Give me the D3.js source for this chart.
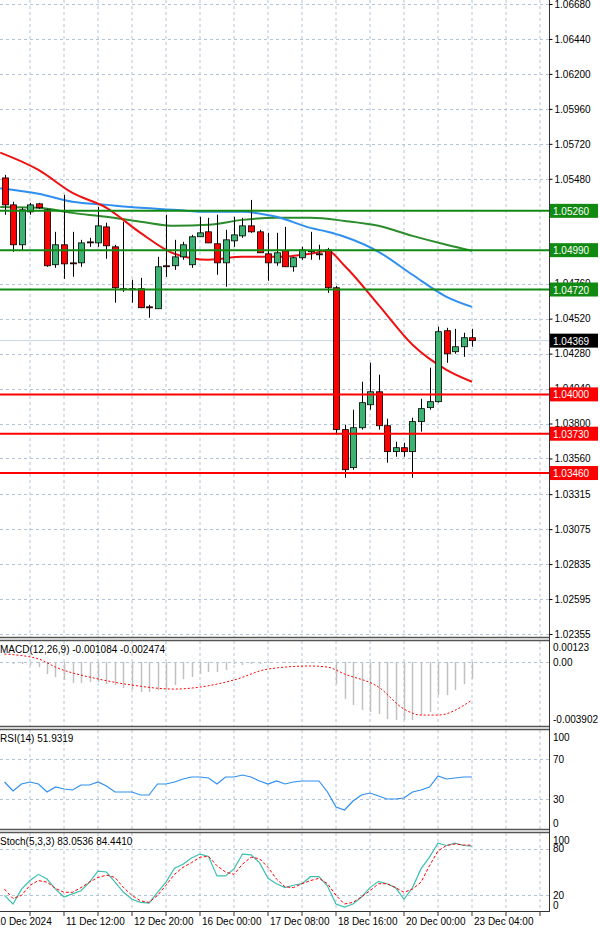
<!DOCTYPE html>
<html>
<head>
<meta charset="utf-8">
<script src="https://cdn.jsdelivr.net/npm/d3@7"></script>
<style>
  body { margin: 0; background: #fff; }
  svg text { font-family: "Liberation Sans", Arial, sans-serif; font-size: 10px; }
</style>
</head>
<body>
<svg id="chart" width="600" height="934"></svg>
<script>
// H4 candles, 10 Dec 08:00 .. 22 Dec
var open  = [1.05486,1.05301,1.05027,1.05253,1.05308,1.05267,1.0489,1.05027,1.04903,1.04903,1.05047,1.0504,1.0515,1.05013,1.04725,1.04725,1.04725,1.04601,1.04588,1.04883,1.04883,1.04944,1.0489,1.05082,1.05116,1.05034,1.04903,1.05054,1.05088,1.05157,1.05116,1.04965,1.04903,1.04986,1.04876,1.04938,1.04979,1.04965,1.04992,1.04732,1.03758,1.03497,1.03771,1.03929,1.04018,1.03785,1.03607,1.03634,1.03607,1.03813,1.03909,1.0395,1.04437,1.04293,1.04327,1.04389];
var close = [1.05301,1.05027,1.05267,1.05301,1.05281,1.04883,1.05027,1.04896,1.049,1.0504,1.05044,1.05157,1.0502,1.04732,1.04722,1.0472,1.04595,1.04595,1.04876,1.0488,1.04944,1.05027,1.05082,1.05109,1.0504,1.04903,1.05061,1.05095,1.05157,1.05116,1.04972,1.04903,1.04972,1.04876,1.04938,1.04992,1.04986,1.04962,1.04732,1.03758,1.03483,1.03771,1.03943,1.04018,1.03785,1.03607,1.03634,1.03607,1.03813,1.03902,1.0395,1.0443,1.04279,1.04327,1.04389,1.04369];
var high  = [1.05507,1.05322,1.05281,1.05315,1.05315,1.05274,1.05116,1.0537,1.05116,1.05061,1.05075,1.05287,1.05178,1.05027,1.05185,1.04787,1.048,1.04615,1.04944,1.05233,1.05061,1.05047,1.05095,1.05219,1.05212,1.05233,1.0513,1.05219,1.05212,1.05335,1.0513,1.05109,1.05109,1.0515,1.04944,1.05013,1.05116,1.05027,1.05006,1.04745,1.03792,1.03895,1.04087,1.04217,1.04135,1.03833,1.03675,1.03668,1.0384,1.0397,1.04183,1.04464,1.04457,1.0445,1.04423,1.0445];
var low   = [1.05233,1.04979,1.04992,1.05233,1.05274,1.04876,1.04869,1.04793,1.04807,1.04876,1.05013,1.05013,1.04931,1.04629,1.04704,1.04629,1.04592,1.04526,1.04588,1.04807,1.04855,1.04924,1.04869,1.05082,1.0504,1.04821,1.04739,1.05013,1.05075,1.05109,1.04972,1.0478,1.04883,1.04876,1.04842,1.04924,1.04924,1.04924,1.04697,1.03723,1.03428,1.03483,1.03758,1.03895,1.03758,1.03531,1.03572,1.03572,1.03428,1.03744,1.03895,1.03943,1.04217,1.04279,1.04258,1.04327];

// moving averages, sampled at candle indices
var maIdx   = [-0.5,4,8,12,16,20,24,28,32,36,38,40,44,48,52,55];
var maRed   = [1.0566,1.05541,1.05383,1.05281,1.05109,1.04965,1.04924,1.04944,1.04944,1.04965,1.04986,1.04883,1.04615,1.04341,1.04169,1.04087];
var maBlue  = [1.05415,1.05377,1.05322,1.05301,1.05281,1.05267,1.05253,1.05253,1.05219,1.05143,1.05116,1.05082,1.04979,1.04821,1.0467,1.04601];
var greenIdx = [-0.5,4,8,12,16,20,24,28,32,36,40,44,48,52,55];
var maGreen = [1.05287,1.05281,1.05246,1.05219,1.05185,1.05157,1.05164,1.05198,1.05212,1.05212,1.05191,1.05157,1.05088,1.05027,1.04986];

var greenLevels = [1.0526, 1.0499, 1.0472];
var redLevels = [1.04, 1.0373, 1.0346];
var lastPrice = 1.04369;
var priceTicks = [1.0668,1.0644,1.062,1.0596,1.0572,1.0548,1.0476,1.0452,1.0428,1.0404,1.038,1.0356,1.03315,1.03075,1.02835,1.02595,1.02355];

var macdHist = [0,-0.00013,-0.00013,-0.0002,-0.00033,-0.00078,-0.00098,-0.00117,-0.00137,-0.00137,-0.0013,-0.0013,-0.00143,-0.0015,-0.00169,-0.00176,-0.00195,-0.00195,-0.00182,-0.00176,-0.0015,-0.00111,-0.00098,-0.00078,-0.00065,-0.00065,-0.00052,-0.00013,-0.0002,-0.00013,-0.00013,-0.00007,-0.00007,-0.00007,-0.00007,-0.00007,-0.00007,-0.00007,-0.00007,-0.00143,-0.00241,-0.0028,-0.00312,-0.00325,-0.00338,-0.00371,-0.00377,-0.00377,-0.00377,-0.00345,-0.00325,-0.00215,-0.00215,-0.00182,-0.00143,-0.00108];
var sigIdx = [0,4,6,11,15,20,23,27,31,36,38,40,44,47,49,51,55];
var macdSig = [0.00052,0.0002,-0.00033,-0.0011,-0.0015,-0.00176,-0.00163,-0.00117,-0.00046,-0.00026,-0.00033,-0.00078,-0.00163,-0.00306,-0.00345,-0.00345,-0.00247];

var rsi = [47,38,45,47,45,37,42,40,39,44,44,47,43,37,37,37,34,34,45,45,47,50,52,52,51,45,52,52,54,52,48,45,48,45,47,48,48,48,37,22,19,28,34,36,33,30,30,31,37,39,42,53,50,51,52,52];
var stochK = [20,9,28,39,47,41,28,18,22,26,37,51,50,37,24,15,11,10,24,37,55,60,68,73,70,45,45,54,73,72,62,42,35,30,33,35,44,44,32,9,5,9,18,30,38,35,30,15,30,54,69,87,84,87,84,83];
var stochD = [28,16,20,33,39,37,29,24,24,30,37,43,46,43,30,20,13,11,20,33,47,56,62,69,70,58,50,47,60,69,67,56,41,31,30,35,39,42,35,20,9,11,18,26,35,35,30,24,28,37,58,77,84,86,84.6,84.4];

var timeIdx = [-1,7,15,23,31,39,47,55];
var timeLabels = ["10 Dec 2024","11 Dec 12:00","12 Dec 20:00","16 Dec 00:00","17 Dec 08:00","18 Dec 16:00","20 Dec 00:00","23 Dec 04:00"];

var svg = d3.select('#chart');
var axisX = 549;
var gridColor = '#b4c4d8';

var x = d3.scaleLinear().domain([0, 55]).range([4.5, 472]);
var y = d3.scaleLinear().domain([1.02355, 1.0668]).range([634, 4]);
var yM = d3.scaleLinear().domain([-0.003902, 0]).range([722, 662]);
var yR = d3.scaleLinear().domain([0, 100]).range([829, 729]);
var yS = d3.scaleLinear().domain([0, 100]).range([911, 833]);

// vertical grid, every 4 candles
var vgrid = d3.range(-1, 64, 4);
[[0, 637], [641, 726], [730, 829], [833, 911]].forEach(function (p) {
  svg.append('g').selectAll('line').data(vgrid).enter().append('line')
    .attr('x1', function (d) { return x(d); }).attr('x2', function (d) { return x(d); })
    .attr('y1', p[0]).attr('y2', p[1])
    .attr('stroke', gridColor).attr('stroke-dasharray', '3,3');
});

function hgrid(vals, scale) {
  svg.append('g').selectAll('line').data(vals).enter().append('line')
    .attr('x1', 0).attr('x2', axisX)
    .attr('y1', function (d) { return Math.round(scale(d)) + 0.5; })
    .attr('y2', function (d) { return Math.round(scale(d)) + 0.5; })
    .attr('stroke', gridColor).attr('stroke-dasharray', '3,3');
}
hgrid(priceTicks, y);
hgrid([0], yM);
hgrid([70, 30], yR);
hgrid([80, 20], yS);

// current price line
svg.append('line').attr('x1', 0).attr('x2', axisX)
  .attr('y1', y(lastPrice)).attr('y2', y(lastPrice)).attr('stroke', '#c8d4e4');

// moving averages
function maLine(idx, vals, color) {
  svg.append('path').datum(idx.map(function (d, i) { return [d, vals[i]]; }))
    .attr('fill', 'none').attr('stroke', color).attr('stroke-width', 2)
    .attr('d', d3.line().x(function (d) { return x(d[0]); }).y(function (d) { return y(d[1]); })
      .curve(d3.curveMonotoneX));
}
maLine(greenIdx, maGreen, '#2a8c2a');
maLine(maIdx, maBlue, '#2f8ff0');
maLine(maIdx, maRed, '#f01010');

// candles
var candles = svg.append('g').selectAll('g').data(open).enter().append('g');
candles.append('line')
  .attr('x1', function (d, i) { return Math.round(x(i)) + 0.5; })
  .attr('x2', function (d, i) { return Math.round(x(i)) + 0.5; })
  .attr('y1', function (d, i) { return y(high[i]); })
  .attr('y2', function (d, i) { return y(low[i]); })
  .attr('stroke', '#000');
candles.append('rect')
  .attr('x', function (d, i) { return Math.round(x(i)) - 2.5; })
  .attr('width', 6)
  .attr('y', function (d, i) { return y(Math.max(open[i], close[i])); })
  .attr('height', function (d, i) { return Math.max(1, Math.abs(y(open[i]) - y(close[i]))); })
  .attr('fill', function (d, i) { return close[i] >= open[i] ? '#3cb371' : '#ff0000'; })
  .attr('stroke', '#000').attr('stroke-width', 0.8);

// support / resistance
function levels(vals, color) {
  svg.append('g').selectAll('line').data(vals).enter().append('line')
    .attr('x1', 0).attr('x2', axisX)
    .attr('y1', function (d) { return y(d); }).attr('y2', function (d) { return y(d); })
    .attr('stroke', color).attr('stroke-width', 2);
}
levels(greenLevels, '#118a11');
levels(redLevels, '#ff0000');

// MACD
svg.append('g').selectAll('line').data(macdHist).enter().append('line')
  .attr('x1', function (d, i) { return Math.round(x(i)) + 0.5; })
  .attr('x2', function (d, i) { return Math.round(x(i)) + 0.5; })
  .attr('y1', yM(0)).attr('y2', function (d) { return yM(d); })
  .attr('stroke', '#c0c0c0').attr('stroke-width', 1.5);
svg.append('path').datum(sigIdx.map(function (d, i) { return [d, macdSig[i]]; }))
  .attr('fill', 'none').attr('stroke', '#ff0000').attr('stroke-dasharray', '2,2')
  .attr('d', d3.line().x(function (d) { return x(d[0]); }).y(function (d) { return yM(d[1]); })
    .curve(d3.curveMonotoneX));

// RSI
svg.append('path').datum(rsi).attr('fill', 'none').attr('stroke', '#2f8ff0').attr('stroke-width', 1.2)
  .attr('d', d3.line().x(function (d, i) { return x(i); }).y(function (d) { return yR(d); }));

// Stoch
svg.append('path').datum(stochK).attr('fill', 'none').attr('stroke', '#3cbfb0').attr('stroke-width', 1.2)
  .attr('d', d3.line().x(function (d, i) { return x(i); }).y(function (d) { return yS(d); }));
svg.append('path').datum(stochD).attr('fill', 'none').attr('stroke', '#ff0000').attr('stroke-dasharray', '3,2')
  .attr('d', d3.line().x(function (d, i) { return x(i); }).y(function (d) { return yS(d); }));

// panel borders
[[637.5, 640.5], [726.5, 729.5], [829.5, 832.5]].forEach(function (p) {
  p.forEach(function (v) {
    svg.append('line').attr('x1', 0).attr('x2', axisX).attr('y1', v).attr('y2', v)
      .attr('stroke', '#555').attr('stroke-width', 1.5);
  });
});
svg.append('line').attr('x1', 0).attr('x2', axisX).attr('y1', 911.5).attr('y2', 911.5).attr('stroke', '#333');
svg.append('line').attr('x1', axisX + 0.5).attr('x2', axisX + 0.5).attr('y1', 0).attr('y2', 912).attr('stroke', '#333');

// price axis
var pAxis = svg.append('g').attr('transform', 'translate(' + (axisX + 0.5) + ',0)')
  .call(d3.axisRight(y).tickValues(priceTicks).tickSize(3).tickFormat(d3.format('.5f')));
pAxis.select('.domain').remove();
pAxis.selectAll('text').attr('x', 5).attr('fill', '#000')
  .style('font-family', '"Liberation Sans", Arial, sans-serif').style('font-size', '10px');

function tag(v, fill) {
  var g = svg.append('g').attr('transform', 'translate(' + (axisX + 1) + ',' + y(v) + ')');
  g.append('rect').attr('x', 0).attr('y', -7).attr('width', 48).attr('height', 14).attr('fill', fill);
  g.append('text').attr('x', 3).attr('y', 4).attr('fill', '#fff').text(d3.format('.5f')(v));
}
greenLevels.forEach(function (v) { tag(v, '#118a11'); });
redLevels.forEach(function (v) { tag(v, '#ff0000'); });
tag(lastPrice, '#000');

// indicator axes and titles
function sideLabel(t, yy) {
  svg.append('text').attr('x', axisX + 4).attr('y', yy).attr('dy', '0.35em').text(t);
}
sideLabel('0.00123', 647); sideLabel('0.00', 662); sideLabel('-0.003902', 719);
sideLabel('100', 737); sideLabel('70', yR(70)); sideLabel('30', yR(30)); sideLabel('0', 823);
sideLabel('100', 840); sideLabel('80', yS(80)); sideLabel('20', yS(20)); sideLabel('0', 905);

svg.append('text').attr('x', 0).attr('y', 653).text('MACD(12,26,9) -0.001084 -0.002474');
svg.append('text').attr('x', 0).attr('y', 742).text('RSI(14) 51.9319');
svg.append('text').attr('x', 0).attr('y', 845).text('Stoch(5,3,3) 83.0536 84.4410');

// time axis (first label runs off the left edge as in the source)
svg.append('g').selectAll('text').data(timeIdx).enter().append('text')
  .attr('x', function (d, i) { return i === 0 ? -5 : x(d) + 2; }).attr('y', 925)
  .text(function (d, i) { return timeLabels[i]; });
svg.append('g').selectAll('line').data(vgrid).enter().append('line')
  .attr('x1', function (d) { return x(d); }).attr('x2', function (d) { return x(d); })
  .attr('y1', 912).attr('y2', 916).attr('stroke', '#333');
</script>
</body>
</html>
